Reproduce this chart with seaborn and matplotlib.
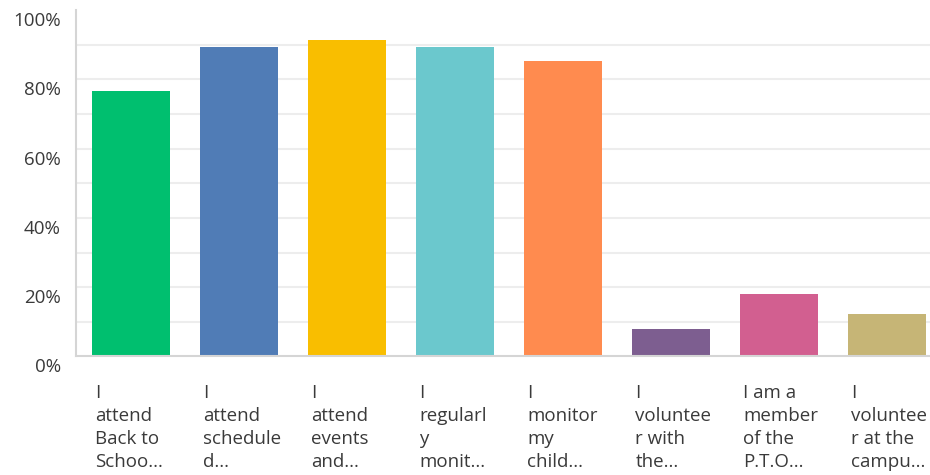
import matplotlib
matplotlib.use("Agg")
import matplotlib.pyplot as plt
import matplotlib.transforms as mtransforms
import seaborn as sns
import pandas as pd

# Survey responses: share of parents choosing each involvement option
categories = [
    "I attend Back to School",
    "I attend scheduled",
    "I attend events and",
    "I regularly monitor",
    "I monitor my child",
    "I volunteer with the",
    "I am a member of the P.T.O",
    "I volunteer at the campus",
]
tick_labels = [
    "I\nattend\nBack to\nSchoo...",
    "I\nattend\nschedule\nd...",
    "I\nattend\nevents\nand...",
    "I\nregularl\ny\nmonit...",
    "I\nmonitor\nmy\nchild...",
    "I\nvoluntee\nr with\nthe...",
    "I am a\nmember\nof the\nP.T.O...",
    "I\nvoluntee\nr at the\ncampu...",
]
percent = [76.8, 89.3, 91.3, 89.3, 85.3, 7.9, 18.0, 12.1]
colors = ["#00BF6F", "#507CB6", "#F9BE00", "#6BC8CD",
          "#FF8B4F", "#7D5E90", "#D25F90", "#C6B576"]

df = pd.DataFrame({"option": categories, "percent": percent})

sns.set_theme(style="white")
plt.rcParams["font.family"] = ["Open Sans", "DejaVu Sans"]

fig = plt.figure(figsize=(9.3, 4.75), dpi=100)
ax = fig.add_axes([76 / 930, 118.7 / 475, 1 - 76 / 930, (356.3 - 10.3) / 475])

sns.barplot(data=df, x="option", y="percent", hue="option",
            palette=colors, width=0.722, legend=False, ax=ax,
            saturation=1, edgecolor="none")

ax.set_xlim(-0.512, 7.395)
ax.set_ylim(0, 100)
ax.set_xlabel("")
ax.set_ylabel("")

# gridlines every 10%, labels every 20%
ax.set_yticks(range(0, 101, 20))
ax.set_yticks(range(10, 100, 20), minor=True)
ax.set_yticklabels([f"{v}%" for v in range(0, 101, 20)])
ax.grid(True, axis="y", which="both", color="#EDEDED", linewidth=1.5)
for gl, v in zip(ax.yaxis.get_gridlines(), range(0, 101, 20)):
    if v in (0, 100):
        gl.set_visible(False)
ax.set_axisbelow(True)
ax.tick_params(axis="both", which="both", length=0)
ax.tick_params(axis="y", pad=11, labelsize=13.5, labelcolor="#3A3A3A")

for side in ("top", "right"):
    ax.spines[side].set_visible(False)
for side in ("left", "bottom"):
    ax.spines[side].set_color("#D5D5D5")
    ax.spines[side].set_linewidth(1.5)

ax.set_xticks(range(len(categories)))
ax.set_xticklabels(tick_labels, ha="left", va="top", fontsize=13.5,
                   color="#3A3A3A", linespacing=1.36)
ax.tick_params(axis="x", pad=20)

shift_x = mtransforms.ScaledTranslation(-36 / 100, 0, fig.dpi_scale_trans)
for lbl in ax.get_xticklabels():
    lbl.set_transform(lbl.get_transform() + shift_x)
shift_y = mtransforms.ScaledTranslation(0, -9 / 100, fig.dpi_scale_trans)
for lbl in ax.get_yticklabels():
    lbl.set_transform(lbl.get_transform() + shift_y)

fig.savefig("out.png", dpi=100)
